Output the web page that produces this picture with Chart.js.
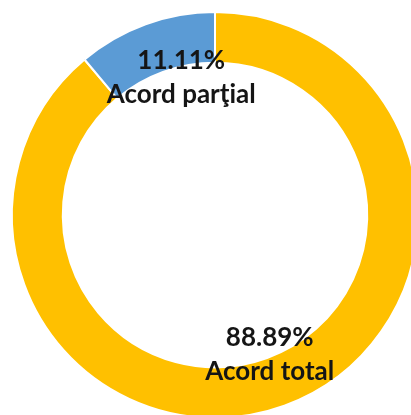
<!DOCTYPE html>
<html><head><meta charset="utf-8">
<script src="https://cdn.jsdelivr.net/npm/chart.js@4/dist/chart.umd.min.js"></script>
<style>html,body{margin:0;padding:0;background:#fff;overflow:hidden;width:411px;height:415px}
#wrap{position:absolute;left:0;top:0;width:430px;height:430px}</style>
</head><body><div id="wrap"><canvas id="c" width="430" height="430"></canvas></div>
<script>
const categories = ["Acord total", "Acord parţial"];
const values = [88.89, 11.11];
const percentLabels = ["88.89%", "11.11%"];
const colors = ["#FFC000", "#5B9BD5"];
// label offsets relative to arc centre point (px)
const labelOffsets = [[-6, -27], [27, 30]];

const labelPlugin = {
  id: 'sliceLabels',
  afterDatasetsDraw(chart) {
    const ctx = chart.ctx;
    const meta = chart.getDatasetMeta(0);
    ctx.save();
    ctx.font = 'bold 26px Lato, "Open Sans", sans-serif';
    ctx.fillStyle = '#151515';
    ctx.textAlign = 'center';
    ctx.textBaseline = 'middle';
    meta.data.forEach((arc, i) => {
      const p = arc.getCenterPoint();
      const x = p.x + labelOffsets[i][0];
      const y = p.y + labelOffsets[i][1];
      ctx.fillText(percentLabels[i], x, y - 17);
      ctx.fillText(categories[i], x, y + 17);
    });
    ctx.restore();
  }
};

new Chart(document.getElementById('c'), {
  type: 'doughnut',
  data: { labels: categories, datasets: [{ data: values, backgroundColor: colors, borderColor: '#fff', borderWidth: 2 }] },
  options: {
    responsive: false, animation: false, cutout: '75%',
    layout: { padding: 11 },
    plugins: { legend: { display: false }, tooltip: { enabled: false } }
  },
  plugins: [labelPlugin]
});
</script></body></html>
